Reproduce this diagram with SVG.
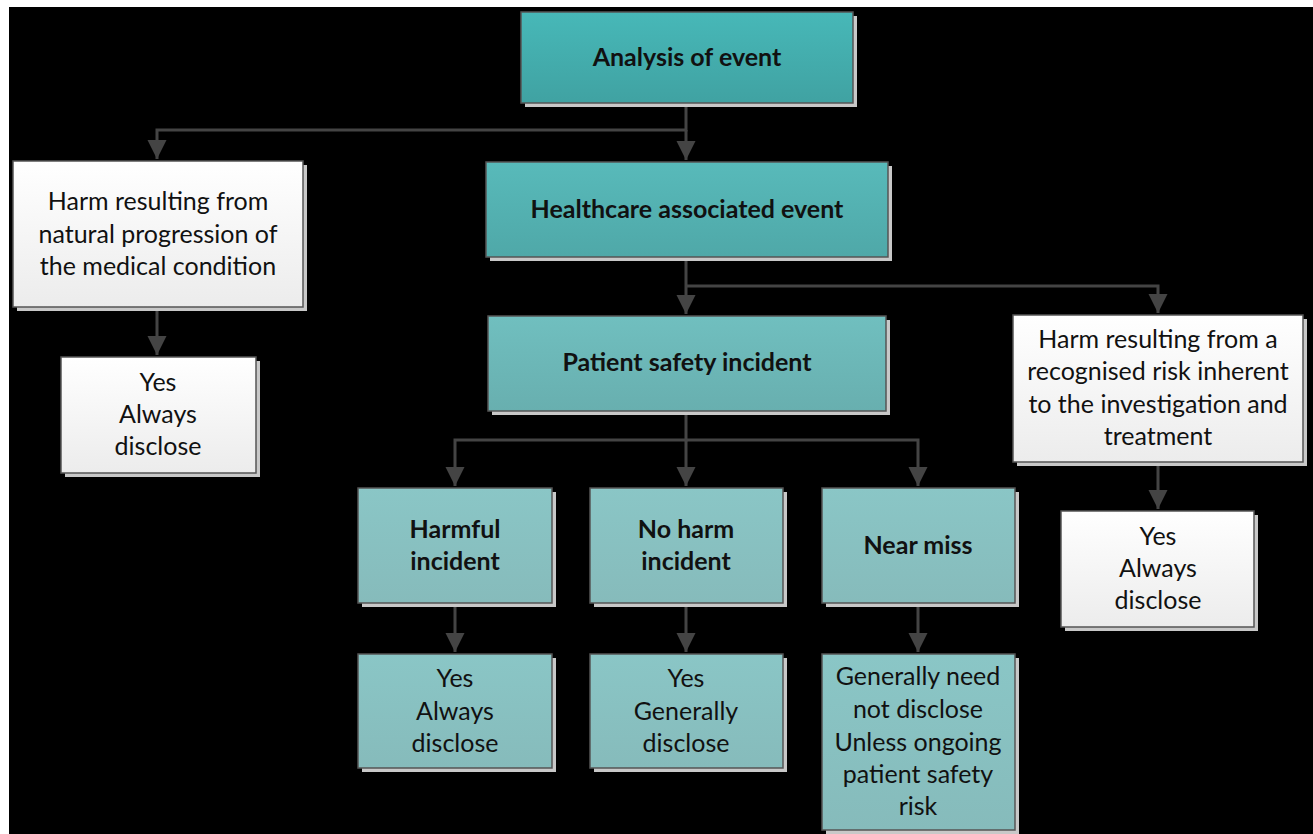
<svg xmlns="http://www.w3.org/2000/svg" width="1313" height="834" viewBox="0 0 1313 834">
<defs>
<linearGradient id="g1" x1="0" y1="0" x2="0" y2="1"><stop offset="0" stop-color="#47b8b8"/><stop offset="1" stop-color="#40a2a2"/></linearGradient>
<linearGradient id="g2" x1="0" y1="0" x2="0" y2="1"><stop offset="0" stop-color="#58baba"/><stop offset="1" stop-color="#4fa8a8"/></linearGradient>
<linearGradient id="g3" x1="0" y1="0" x2="0" y2="1"><stop offset="0" stop-color="#70bfbf"/><stop offset="1" stop-color="#68afaf"/></linearGradient>
<linearGradient id="g4" x1="0" y1="0" x2="0" y2="1"><stop offset="0" stop-color="#8ac6c6"/><stop offset="1" stop-color="#86bbbb"/></linearGradient>
<linearGradient id="gw" x1="0" y1="0" x2="0" y2="1"><stop offset="0" stop-color="#ffffff"/><stop offset="1" stop-color="#ececec"/></linearGradient>
<marker id="arr" viewBox="0 0 10 10" refX="10" refY="5" markerWidth="6.5" markerHeight="6.5" markerUnits="strokeWidth" orient="auto"><path d="M0,0 L10,5 L0,10 z" fill="#444"/></marker>
</defs>
<style>
.sh{fill:#c8c8c8}
.box{stroke:#555;stroke-width:1.5}
.t{font-family:Lato,"Open Sans",sans-serif;font-size:25px;fill:#111;text-anchor:middle}
.b{font-weight:bold}
.c{fill:none;stroke:#444;stroke-width:3}
</style>
<rect x="0" y="0" width="1313" height="834" fill="#ffffff"/>
<rect x="9" y="7" width="1304" height="827" fill="#000000"/>
<g id="connectors">
<path class="c" d="M686,103 V130 H157 V159" marker-end="url(#arr)"/>
<path class="c" d="M686,130 V160" marker-end="url(#arr)"/>
<path class="c" d="M686,257 V314" marker-end="url(#arr)"/>
<path class="c" d="M686,286 H1158 V313" marker-end="url(#arr)"/>
<path class="c" d="M686,411 V440 H455 V486" marker-end="url(#arr)"/>
<path class="c" d="M686,440 V486" marker-end="url(#arr)"/>
<path class="c" d="M686,440 H918 V486" marker-end="url(#arr)"/>
<path class="c" d="M157,307 V355" marker-end="url(#arr)"/>
<path class="c" d="M455,603 V652" marker-end="url(#arr)"/>
<path class="c" d="M686,603 V652" marker-end="url(#arr)"/>
<path class="c" d="M918,603 V652" marker-end="url(#arr)"/>
<path class="c" d="M1158,462 V509" marker-end="url(#arr)"/>
</g>
<g id="analysis">
<rect class="sh" x="525" y="16" width="332" height="91"/>
<rect class="box" x="521" y="12" width="332" height="91" fill="url(#g1)"/>
<text class="t b" x="687" y="66">Analysis of event</text>
</g>
<g id="healthcare">
<rect class="sh" x="490" y="166" width="402" height="95"/>
<rect class="box" x="486" y="162" width="402" height="95" fill="url(#g2)"/>
<text class="t b" x="687" y="218">Healthcare associated event</text>
</g>
<g id="natural">
<rect class="sh" x="17" y="165" width="290" height="146"/>
<rect class="box" x="13" y="161" width="290" height="146" fill="url(#gw)"/>
<text class="t" x="158" y="210">Harm resulting from</text>
<text class="t" x="158" y="243">natural progression of</text>
<text class="t" x="158" y="275">the medical condition</text>
</g>
<g id="natural-yes">
<rect class="sh" x="65" y="361" width="195" height="116"/>
<rect class="box" x="61" y="357" width="195" height="116" fill="url(#gw)"/>
<text class="t" x="158" y="391">Yes</text>
<text class="t" x="158" y="423">Always</text>
<text class="t" x="158" y="455">disclose</text>
</g>
<g id="patient-safety">
<rect class="sh" x="492" y="320" width="398" height="95"/>
<rect class="box" x="488" y="316" width="398" height="95" fill="url(#g3)"/>
<text class="t b" x="687" y="371">Patient safety incident</text>
</g>
<g id="recognised">
<rect class="sh" x="1017" y="319" width="290" height="147"/>
<rect class="box" x="1013" y="315" width="290" height="147" fill="url(#gw)"/>
<text class="t" x="1158" y="348">Harm resulting from a</text>
<text class="t" x="1158" y="380">recognised risk inherent</text>
<text class="t" x="1158" y="413">to the investigation and</text>
<text class="t" x="1158" y="445">treatment</text>
</g>
<g id="recognised-yes">
<rect class="sh" x="1065" y="515" width="193" height="116"/>
<rect class="box" x="1061" y="511" width="193" height="116" fill="url(#gw)"/>
<text class="t" x="1158" y="545">Yes</text>
<text class="t" x="1158" y="577">Always</text>
<text class="t" x="1158" y="609">disclose</text>
</g>
<g id="harmful">
<rect class="sh" x="362" y="492" width="194" height="115"/>
<rect class="box" x="358" y="488" width="194" height="115" fill="url(#g4)"/>
<text class="t b" x="455" y="538">Harmful</text>
<text class="t b" x="455" y="570">incident</text>
</g>
<g id="harmful-yes">
<rect class="sh" x="362" y="658" width="194" height="114"/>
<rect class="box" x="358" y="654" width="194" height="114" fill="url(#g4)"/>
<text class="t" x="455" y="687">Yes</text>
<text class="t" x="455" y="720">Always</text>
<text class="t" x="455" y="752">disclose</text>
</g>
<g id="noharm">
<rect class="sh" x="594" y="492" width="193" height="115"/>
<rect class="box" x="590" y="488" width="193" height="115" fill="url(#g4)"/>
<text class="t b" x="686" y="538">No harm</text>
<text class="t b" x="686" y="570">incident</text>
</g>
<g id="noharm-yes">
<rect class="sh" x="594" y="658" width="193" height="114"/>
<rect class="box" x="590" y="654" width="193" height="114" fill="url(#g4)"/>
<text class="t" x="686" y="687">Yes</text>
<text class="t" x="686" y="720">Generally</text>
<text class="t" x="686" y="752">disclose</text>
</g>
<g id="nearmiss">
<rect class="sh" x="826" y="492" width="193" height="115"/>
<rect class="box" x="822" y="488" width="193" height="115" fill="url(#g4)"/>
<text class="t b" x="918" y="554">Near miss</text>
</g>
<g id="nearmiss-no">
<rect class="sh" x="826" y="658" width="193" height="180"/>
<rect class="box" x="822" y="654" width="193" height="176" fill="url(#g4)"/>
<text class="t" x="918" y="685">Generally need</text>
<text class="t" x="918" y="718">not disclose</text>
<text class="t" x="918" y="751">Unless ongoing</text>
<text class="t" x="918" y="783">patient safety</text>
<text class="t" x="918" y="815">risk</text>
</g>
</svg>
